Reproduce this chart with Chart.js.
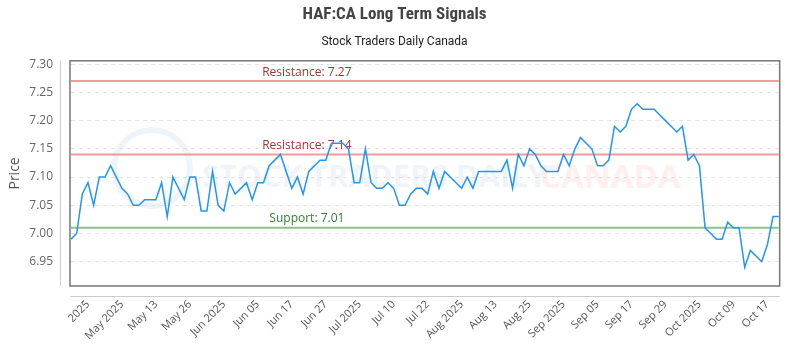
<!DOCTYPE html>
<html>
<head>
<meta charset="utf-8">
<script src="https://cdn.jsdelivr.net/npm/chart.js@4"></script>
<style>
html,body{margin:0;padding:0;background:#fff;}
</style>
</head>
<body>
<canvas id="chart" width="800" height="350"></canvas>
<script>
// tick labels shown on the x axis (every 6th trading day)
const tickLabels = ['2025','May 2025','May 13','May 26','Jun 2025','Jun 05','Jun 17','Jun 27',
  'Jul 2025','Jul 10','Jul 22','Aug 2025','Aug 13','Aug 25','Sep 2025','Sep 05','Sep 17',
  'Sep 29','Oct 2025','Oct 09','Oct 17'];
const firstTick = 3;
const tickEvery = 6;

const prices = [
  6.99,7.00,7.07,7.09,7.05,7.10,7.10,7.12,7.10,7.08,
  7.07,7.05,7.05,7.06,7.06,7.06,7.09,7.03,7.10,7.08,
  7.06,7.10,7.10,7.04,7.04,7.11,7.05,7.04,7.09,7.07,
  7.08,7.09,7.06,7.09,7.09,7.12,7.13,7.14,7.11,7.08,
  7.10,7.07,7.11,7.12,7.13,7.13,7.16,7.16,7.16,7.15,
  7.09,7.09,7.15,7.09,7.08,7.08,7.09,7.08,7.05,7.05,
  7.07,7.08,7.08,7.07,7.11,7.08,7.11,7.10,7.09,7.08,
  7.10,7.08,7.11,7.11,7.11,7.11,7.11,7.13,7.08,7.14,
  7.12,7.15,7.14,7.12,7.11,7.11,7.11,7.14,7.12,7.15,
  7.17,7.16,7.15,7.12,7.12,7.13,7.19,7.18,7.19,7.22,
  7.23,7.22,7.22,7.22,7.21,7.20,7.19,7.18,7.19,7.13,
  7.14,7.12,7.01,7.00,6.99,6.99,7.02,7.01,7.01,6.94,
  6.97,6.96,6.95,6.98,7.03,7.03
];

const resistance = [7.27, 7.14];
const support = [7.01];
const yMin = 6.907;
const yMax = 7.306;

const labels = prices.map((p, i) =>
  (i - firstTick) % tickEvery === 0 && i >= firstTick ? tickLabels[(i - firstTick) / tickEvery] : '');

const levelsPlugin = {
  id: 'levels',
  beforeDatasetsDraw(chart) {
    const { ctx, chartArea: a, scales: { y } } = chart;
    ctx.save();
    // faint watermark
    ctx.strokeStyle = 'rgba(175,200,228,0.2)';
    ctx.lineWidth = 6;
    ctx.beginPath();
    ctx.arc(152, 168, 38, 0, Math.PI * 2);
    ctx.stroke();
    ctx.textBaseline = 'middle';
    ctx.textAlign = 'left';
    ctx.font = 'bold 31px "Liberation Sans Narrow", "Open Sans", sans-serif';
    ctx.fillStyle = 'rgba(175,200,228,0.2)';
    ctx.fillText('STOCK TRADERS DAILY', 202, 178);
    ctx.font = 'bold 33px "Open Sans", sans-serif';
    ctx.fillStyle = 'rgba(255,175,175,0.2)';
    ctx.fillText('CANADA', 540, 179);

    const lx = a.left + (a.right - a.left) / 3;
    ctx.font = '12px "Open Sans", sans-serif';
    ctx.textAlign = 'center';
    ctx.textBaseline = 'bottom';
    ctx.lineWidth = 2;
    resistance.forEach(v => {
      const py = y.getPixelForValue(v);
      ctx.strokeStyle = 'rgba(240,120,120,0.75)';
      ctx.beginPath(); ctx.moveTo(a.left, py); ctx.lineTo(a.right, py); ctx.stroke();
      ctx.fillStyle = '#a83232';
      ctx.fillText('Resistance: ' + v.toFixed(2), lx, py - 3);
    });
    support.forEach(v => {
      const py = y.getPixelForValue(v);
      ctx.strokeStyle = 'rgba(110,180,110,0.8)';
      ctx.beginPath(); ctx.moveTo(a.left, py); ctx.lineTo(a.right, py); ctx.stroke();
      ctx.fillStyle = '#2e7d32';
      ctx.fillText('Support: ' + v.toFixed(2), lx, py - 3);
    });
    ctx.restore();
  },
  afterDatasetsDraw(chart) {
    const { ctx, chartArea: a } = chart;
    ctx.save();
    ctx.strokeStyle = '#777';
    ctx.lineWidth = 1.5;
    ctx.strokeRect(a.left - 1, a.top, a.right - a.left + 2, a.bottom - a.top);
    ctx.strokeStyle = '#ccc';
    ctx.lineWidth = 1;
    ctx.beginPath();
    ctx.moveTo(a.left - 10.5, a.top); ctx.lineTo(a.left - 10.5, a.bottom);
    ctx.moveTo(a.left - 1, a.bottom + 10.5); ctx.lineTo(a.right + 1, a.bottom + 10.5);
    ctx.stroke();
    ctx.restore();
  }
};

new Chart(document.getElementById('chart'), {
  type: 'line',
  data: {
    labels,
    datasets: [{
      data: prices,
      borderColor: '#2196f3',
      borderWidth: 1.5,
      pointRadius: 0,
      tension: 0,
      fill: false
    }]
  },
  options: {
    responsive: false,
    animation: false,
    devicePixelRatio: 1,
    layout: { padding: { right: 11, left: 0, bottom: 0 } },
    plugins: {
      legend: { display: false },
      tooltip: { enabled: false },
      title: {
        display: true,
        text: 'HAF:CA Long Term Signals',
        color: '#444',
        font: { family: '"Liberation Sans Narrow", "Roboto Condensed", Roboto, sans-serif', size: 17, weight: 'bold' },
        padding: { top: 5, bottom: 9 }
      },
      subtitle: {
        display: true,
        text: 'Stock Traders Daily Canada',
        color: '#222',
        font: { family: '"Liberation Sans Narrow", Roboto, sans-serif', size: 12 },
        padding: { bottom: 12 }
      }
    },
    scales: {
      x: {
        grid: { display: false, drawTicks: false },
        border: { display: false },
        ticks: {
          autoSkip: false,
          minRotation: 45,
          maxRotation: 45,
          padding: 12,
          color: '#555',
          font: { family: '"Open Sans", sans-serif', size: 11 }
        },
        afterFit(scale) { scale.height = 64; }
      },
      y: {
        min: yMin,
        max: yMax,
        grid: { color: '#e4e4e4', drawTicks: false },
        border: { display: false, dash: [4, 4] },
        ticks: {
          stepSize: 0.05,
          includeBounds: false,
          padding: 18,
          color: '#666',
          font: { family: '"Open Sans", sans-serif', size: 12 },
          callback: v => v.toFixed(2)
        },
        afterBuildTicks(scale) {
          scale.ticks = scale.ticks.filter(t => Math.abs(t.value * 20 - Math.round(t.value * 20)) < 1e-6);
        },
        title: {
          display: true,
          text: 'Price',
          color: '#555',
          font: { family: '"Open Sans", sans-serif', size: 14 },
          padding: { top: 7, bottom: 0 }
        },
        afterFit(scale) { scale.width = 71; }
      }
    }
  },
  plugins: [levelsPlugin]
});
</script>
</body>
</html>
